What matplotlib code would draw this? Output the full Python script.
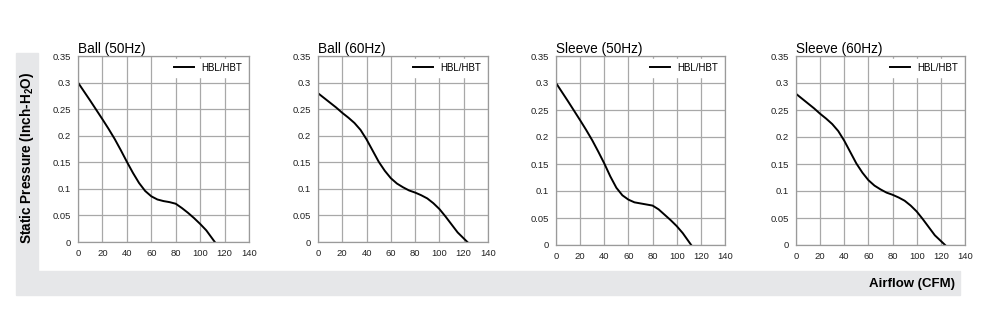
import matplotlib.pyplot as plt
from matplotlib.patches import Rectangle

plt.rcParams['font.family'] = ['Liberation Sans', 'DejaVu Sans']

titles = ['Ball (50Hz)', 'Ball (60Hz)', 'Sleeve (50Hz)', 'Sleeve (60Hz)']
series_label = 'HBL/HBT'

# airflow (CFM) / static pressure (inch-H2O)
ball50_x = [0, 10, 20, 25, 30, 35, 40, 45, 50, 55, 60, 65, 70, 75, 80, 85, 90, 95, 100, 105, 112]
ball50_y = [0.30, 0.266, 0.231, 0.213, 0.194, 0.173, 0.151, 0.130, 0.111, 0.096, 0.086, 0.080,
            0.077, 0.075, 0.072, 0.064, 0.055, 0.045, 0.034, 0.022, 0.0]

ball60_x = [0, 5, 10, 15, 20, 25, 30, 35, 40, 45, 50, 55, 60, 65, 70, 75, 80, 85, 90, 95, 100,
            105, 110, 115, 123]
ball60_y = [0.28, 0.271, 0.262, 0.253, 0.243, 0.234, 0.224, 0.211, 0.193, 0.172, 0.151, 0.134,
            0.120, 0.110, 0.103, 0.097, 0.093, 0.088, 0.082, 0.073, 0.062, 0.048, 0.033, 0.018, 0.0]

sleeve50_x = [0, 10, 20, 25, 30, 35, 40, 45, 50, 55, 60, 65, 70, 75, 80, 85, 90, 95, 100, 105, 112]
sleeve50_y = [0.30, 0.266, 0.231, 0.213, 0.194, 0.173, 0.151, 0.127, 0.106, 0.092, 0.084, 0.079,
              0.077, 0.075, 0.073, 0.066, 0.056, 0.046, 0.035, 0.022, 0.0]

sleeve60_x = [0, 5, 10, 15, 20, 25, 30, 35, 40, 45, 50, 55, 60, 65, 70, 75, 80, 85, 90, 95, 100,
              105, 110, 115, 123.5]
sleeve60_y = [0.28, 0.271, 0.262, 0.253, 0.243, 0.234, 0.224, 0.211, 0.193, 0.172, 0.151, 0.134,
              0.120, 0.110, 0.103, 0.097, 0.093, 0.088, 0.082, 0.073, 0.062, 0.048, 0.033, 0.018, 0.0]

xs = [ball50_x, ball60_x, sleeve50_x, sleeve60_x]
ys = [ball50_y, ball60_y, sleeve50_y, sleeve60_y]

fig = plt.figure(figsize=(9.92, 3.23), dpi=100)
W, H = 992.0, 323.0

# grey L-shaped label band
band = '#e6e7e9'
fig.patches.append(Rectangle((16 / W, 1 - 295 / H), (960 - 16) / W, 24 / H,
                             transform=fig.transFigure, color=band, zorder=0))
fig.patches.append(Rectangle((16 / W, 1 - 271 / H), 22 / W, (271 - 53) / H,
                             transform=fig.transFigure, color=band, zorder=0))

# axes boxes in pixels: left, right, top, bottom
boxes = [(78, 249, 56, 242), (318, 488, 56, 242), (556, 725, 56, 245), (796, 965, 56, 245)]

for i, (l, r, t, b) in enumerate(boxes):
    ax = fig.add_axes([l / W, 1 - b / H, (r - l) / W, (b - t) / H])
    ax.plot(xs[i], ys[i], color='black', lw=1.4, label=series_label, solid_joinstyle='round')
    ax.set_xlim(0, 140)
    ax.set_ylim(0, 0.35)
    ax.set_xticks(range(0, 141, 20))
    ax.set_yticks([0, 0.05, 0.1, 0.15, 0.2, 0.25, 0.3, 0.35])
    ax.set_yticklabels(['0', '0.05', '0.1', '0.15', '0.2', '0.25', '0.3', '0.35'])
    ax.tick_params(length=0, labelsize=6.8, pad=5, colors='#222222')
    ax.grid(color='#a8a8a8', lw=0.9)
    for s in ax.spines.values():
        s.set_color('#9a9a9a')
        s.set_linewidth(0.9)
    ax.set_title(titles[i], loc='left', fontsize=9.8, pad=2)
    leg = ax.legend(loc='upper right', fontsize=7, frameon=True, handlelength=2.0,
                    borderaxespad=0.3, fancybox=False)
    leg.get_frame().set_edgecolor('white')
    leg.get_frame().set_alpha(1)

fig.text(27 / W, 1 - 158 / H, 'Static Pressure (Inch-H$_\\mathregular{2}$O)', rotation=90,
         ha='center', va='center', fontsize=9.8, fontweight='bold')
fig.text(955 / W, 1 - 284 / H, 'Airflow (CFM)', ha='right', va='center',
         fontsize=9.5, fontweight='bold')

fig.savefig('out.png', dpi=100)
